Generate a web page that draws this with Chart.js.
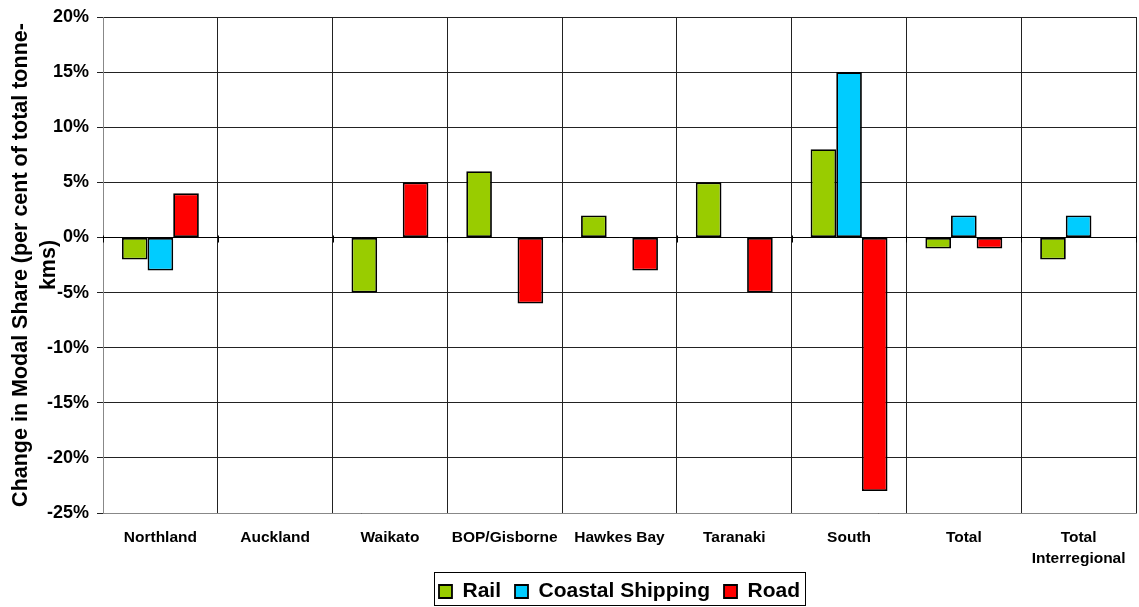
<!DOCTYPE html>
<html>
<head>
<meta charset="utf-8">
<script src="https://cdn.jsdelivr.net/npm/chart.js@4/dist/chart.umd.min.js"></script>
<style>
  html, body { margin: 0; padding: 0; background: #fff; }
  #wrap { width: 1139px; height: 607px; }
</style>
</head>
<body>
<div id="wrap"><canvas id="modalChart" width="1139" height="607"></canvas></div>
<script>
// regions along the x axis
const regions = ["Northland", "Auckland", "Waikato", "BOP/Gisborne", "Hawkes Bay",
    "Taranaki", "South", "Total", ["Total", "Interregional"]];

// change in modal share, per cent of total tonne-kms (null = no bar)
const rail = [-2, null, -5, 6, 2, 5, 8, -1, -2];
const coastal = [-3, null, null, null, null, null, 15, 2, 2];
const road = [4, null, 5, -6, -3, -5, -23, -1, null];

const yTicks = [-25, -20, -15, -10, -5, 0, 5, 10, 15, 20];

const FONT = "'Liberation Sans', Arial, sans-serif";

// frame round the legend
const legendFrame = {
    id: "legendFrame",
    afterDraw(chart) {
        const boxes = chart.legend.legendHitBoxes;
        if (!boxes || !boxes.length) return;
        let x1 = Infinity, y1 = Infinity, x2 = -Infinity;
        boxes.forEach(b => {
            x1 = Math.min(x1, b.left);
            y1 = Math.min(y1, b.top);
            x2 = Math.max(x2, b.left + b.width);
        });
        const ctx = chart.ctx;
        ctx.save();
        ctx.strokeStyle = "#000";
        ctx.lineWidth = 1;
        ctx.strokeRect(Math.round(x1 - 5) + 0.5, Math.round(y1 - 9) + 0.5,
            Math.round(x2 - x1 + 10), 33);
        ctx.restore();
    }
};

// zero line with small ticks at the category boundaries
const zeroTicks = {
    id: "zeroTicks",
    afterDatasetsDraw(chart) {
        const xs = chart.scales.x, ys = chart.scales.y;
        const y0 = Math.round(ys.getPixelForValue(0)) + 0.5;
        const n = regions.length;
        const ctx = chart.ctx;
        ctx.save();
        ctx.strokeStyle = "#000";
        ctx.lineWidth = 1;
        ctx.beginPath();
        ctx.moveTo(xs.left, y0);
        ctx.lineTo(xs.right, y0);
        for (let i = 0; i <= n; i++) {
            const x = Math.round(xs.left + i * (xs.right - xs.left) / n) + 0.5;
            ctx.moveTo(x, y0 - 2);
            ctx.lineTo(x, y0 + 5);
        }
        ctx.stroke();
        ctx.restore();
    }
};

const barStyle = {
    borderColor: "#000",
    borderWidth: 1.8,
    borderSkipped: false,
    categoryPercentage: 0.67,
    barPercentage: 1.0
};

new Chart(document.getElementById("modalChart").getContext("2d"), {
    type: "bar",
    data: {
        labels: regions,
        datasets: [
            { label: "Rail", data: rail, backgroundColor: "#99CC00", ...barStyle },
            { label: "Coastal Shipping", data: coastal, backgroundColor: "#00CCFF", ...barStyle },
            { label: "Road", data: road, backgroundColor: "#FF0000", ...barStyle }
        ]
    },
    options: {
        responsive: false,
        animation: false,
        layout: { padding: { top: 17, right: 3, left: 0, bottom: -5 } },
        plugins: {
            tooltip: { enabled: false },
            legend: {
                position: "bottom",
                fullSize: false,
                labels: {
                    color: "#000",
                    boxWidth: 13,
                    boxHeight: 13,
                    padding: 14,
                    font: { family: FONT, size: 21, weight: "bold" }
                }
            }
        },
        scales: {
            x: {
                grid: { offset: true, color: "#222", lineWidth: 1, drawTicks: false },
                border: { color: "#888" },
                ticks: {
                    color: "#000",
                    padding: 15,
                    maxRotation: 0,
                    autoSkip: false,
                    font: { family: FONT, size: 15.5, weight: "bold", lineHeight: 1.3 }
                },
                afterFit: s => {
                    s.height = 54;
                    s.paddingLeft = 0;
                    s.paddingRight = 0;
                }
            },
            y: {
                min: -25,
                max: 20,
                afterBuildTicks: s => { s.ticks = yTicks.map(v => ({ value: v })); },
                grid: { color: "#222", lineWidth: 1, tickLength: 6 },
                border: { color: "#888" },
                ticks: {
                    color: "#000",
                    padding: 8,
                    callback: v => v + "%",
                    font: { family: FONT, size: 18, weight: "bold" }
                },
                title: {
                    display: true,
                    text: ["Change in Modal Share (per cent of total tonne-", "kms)"],
                    color: "#000",
                    padding: { top: 7, bottom: 0 },
                    font: { family: FONT, size: 21.5, weight: "bold", lineHeight: 1.3 }
                },
                afterFit: s => {
                    s.width = 103;
                    s.paddingTop = 0;
                    s.paddingBottom = 0;
                }
            }
        }
    },
    plugins: [legendFrame, zeroTicks]
});
</script>
</body>
</html>
